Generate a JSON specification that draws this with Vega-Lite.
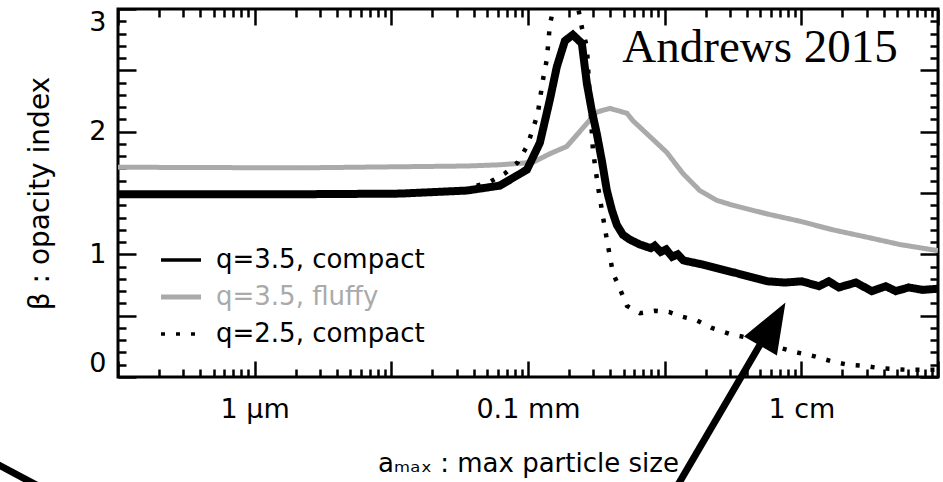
{
  "$schema": "https://vega.github.io/schema/vega-lite/v6.json",
  "width": 820,
  "height": 368,
  "autosize": {"type": "none"},
  "padding": {"left": 118, "top": 9, "right": 5, "bottom": 105},
  "background": "white",
  "config": {
    "view": {"stroke": "black", "strokeWidth": 3},
    "font": "DejaVu Sans",
    "axis": {
      "domain": false, "grid": false, "tickColor": "black", "tickWidth": 2.5,
      "labelColor": "black", "titleColor": "black",
      "labelFont": "DejaVu Sans", "labelFontSize": 27,
      "titleFont": "DejaVu Sans", "titleFontSize": 26, "titleFontWeight": "normal"
    }
  },
  "datasets": {
    "curves": [
      {"series": "q=3.5, fluffy", "size_cm": 0.00001, "beta": 1.71},
      {"series": "q=3.5, fluffy", "size_cm": 0.000214, "beta": 1.705},
      {"series": "q=3.5, fluffy", "size_cm": 0.00357, "beta": 1.72},
      {"series": "q=3.5, fluffy", "size_cm": 0.00622, "beta": 1.73},
      {"series": "q=3.5, fluffy", "size_cm": 0.01086, "beta": 1.75},
      {"series": "q=3.5, fluffy", "size_cm": 0.01445, "beta": 1.82},
      {"series": "q=3.5, fluffy", "size_cm": 0.01923, "beta": 1.88},
      {"series": "q=3.5, fluffy", "size_cm": 0.02523, "beta": 2.03},
      {"series": "q=3.5, fluffy", "size_cm": 0.03192, "beta": 2.16},
      {"series": "q=3.5, fluffy", "size_cm": 0.03972, "beta": 2.19},
      {"series": "q=3.5, fluffy", "size_cm": 0.05297, "beta": 2.15},
      {"series": "q=3.5, fluffy", "size_cm": 0.05848, "beta": 2.09},
      {"series": "q=3.5, fluffy", "size_cm": 0.07798, "beta": 1.96},
      {"series": "q=3.5, fluffy", "size_cm": 0.1038, "beta": 1.83},
      {"series": "q=3.5, fluffy", "size_cm": 0.1358, "beta": 1.66},
      {"series": "q=3.5, fluffy", "size_cm": 0.1807, "beta": 1.52},
      {"series": "q=3.5, fluffy", "size_cm": 0.241, "beta": 1.44},
      {"series": "q=3.5, fluffy", "size_cm": 0.3155, "beta": 1.4},
      {"series": "q=3.5, fluffy", "size_cm": 0.5598, "beta": 1.33},
      {"series": "q=3.5, fluffy", "size_cm": 0.975, "beta": 1.27},
      {"series": "q=3.5, fluffy", "size_cm": 1.698, "beta": 1.2},
      {"series": "q=3.5, fluffy", "size_cm": 3.013, "beta": 1.14},
      {"series": "q=3.5, fluffy", "size_cm": 5.26, "beta": 1.08},
      {"series": "q=3.5, fluffy", "size_cm": 10, "beta": 1.03},
      {"series": "q=3.5, compact", "size_cm": 0.00001, "beta": 1.49},
      {"series": "q=3.5, compact", "size_cm": 0.000214, "beta": 1.49},
      {"series": "q=3.5, compact", "size_cm": 0.001156, "beta": 1.495},
      {"series": "q=3.5, compact", "size_cm": 0.00357, "beta": 1.52},
      {"series": "q=3.5, compact", "size_cm": 0.00622, "beta": 1.56},
      {"series": "q=3.5, compact", "size_cm": 0.00982, "beta": 1.69},
      {"series": "q=3.5, compact", "size_cm": 0.01222, "beta": 1.91},
      {"series": "q=3.5, compact", "size_cm": 0.01445, "beta": 2.26},
      {"series": "q=3.5, compact", "size_cm": 0.01626, "beta": 2.53},
      {"series": "q=3.5, compact", "size_cm": 0.01862, "beta": 2.74},
      {"series": "q=3.5, compact", "size_cm": 0.02128, "beta": 2.79},
      {"series": "q=3.5, compact", "size_cm": 0.02477, "beta": 2.72},
      {"series": "q=3.5, compact", "size_cm": 0.02698, "beta": 2.39},
      {"series": "q=3.5, compact", "size_cm": 0.02931, "beta": 2.17},
      {"series": "q=3.5, compact", "size_cm": 0.03192, "beta": 1.98},
      {"series": "q=3.5, compact", "size_cm": 0.03475, "beta": 1.76},
      {"series": "q=3.5, compact", "size_cm": 0.03776, "beta": 1.52},
      {"series": "q=3.5, compact", "size_cm": 0.04111, "beta": 1.36},
      {"series": "q=3.5, compact", "size_cm": 0.04467, "beta": 1.24},
      {"series": "q=3.5, compact", "size_cm": 0.04943, "beta": 1.16},
      {"series": "q=3.5, compact", "size_cm": 0.05559, "beta": 1.12},
      {"series": "q=3.5, compact", "size_cm": 0.06592, "beta": 1.08},
      {"series": "q=3.5, compact", "size_cm": 0.07925, "beta": 1.05},
      {"series": "q=3.5, compact", "size_cm": 0.0845, "beta": 1.07},
      {"series": "q=3.5, compact", "size_cm": 0.0935, "beta": 1.02},
      {"series": "q=3.5, compact", "size_cm": 0.1025, "beta": 1.04},
      {"series": "q=3.5, compact", "size_cm": 0.1135, "beta": 0.98},
      {"series": "q=3.5, compact", "size_cm": 0.1245, "beta": 1.0},
      {"series": "q=3.5, compact", "size_cm": 0.1375, "beta": 0.95},
      {"series": "q=3.5, compact", "size_cm": 0.1841, "beta": 0.92},
      {"series": "q=3.5, compact", "size_cm": 0.3266, "beta": 0.85},
      {"series": "q=3.5, compact", "size_cm": 0.5689, "beta": 0.78},
      {"series": "q=3.5, compact", "size_cm": 0.7568, "beta": 0.77},
      {"series": "q=3.5, compact", "size_cm": 1.009, "beta": 0.78},
      {"series": "q=3.5, compact", "size_cm": 1.343, "beta": 0.74},
      {"series": "q=3.5, compact", "size_cm": 1.589, "beta": 0.78},
      {"series": "q=3.5, compact", "size_cm": 1.879, "beta": 0.73},
      {"series": "q=3.5, compact", "size_cm": 2.506, "beta": 0.77},
      {"series": "q=3.5, compact", "size_cm": 3.281, "beta": 0.7},
      {"series": "q=3.5, compact", "size_cm": 4.15, "beta": 0.74},
      {"series": "q=3.5, compact", "size_cm": 4.909, "beta": 0.7},
      {"series": "q=3.5, compact", "size_cm": 6.109, "beta": 0.73},
      {"series": "q=3.5, compact", "size_cm": 7.745, "beta": 0.71},
      {"series": "q=3.5, compact", "size_cm": 10, "beta": 0.72},
      {"series": "q=2.5, compact", "size_cm": 0.00001, "beta": 1.49},
      {"series": "q=2.5, compact", "size_cm": 0.001156, "beta": 1.49},
      {"series": "q=2.5, compact", "size_cm": 0.00357, "beta": 1.52},
      {"series": "q=2.5, compact", "size_cm": 0.00395, "beta": 1.55},
      {"series": "q=2.5, compact", "size_cm": 0.00526, "beta": 1.59},
      {"series": "q=2.5, compact", "size_cm": 0.00678, "beta": 1.66},
      {"series": "q=2.5, compact", "size_cm": 0.00843, "beta": 1.75},
      {"series": "q=2.5, compact", "size_cm": 0.00982, "beta": 1.88},
      {"series": "q=2.5, compact", "size_cm": 0.01086, "beta": 2.02},
      {"series": "q=2.5, compact", "size_cm": 0.0118, "beta": 2.15},
      {"series": "q=2.5, compact", "size_cm": 0.01285, "beta": 2.42},
      {"series": "q=2.5, compact", "size_cm": 0.01374, "beta": 2.59},
      {"series": "q=2.5, compact", "size_cm": 0.01445, "beta": 2.87},
      {"series": "q=2.5, compact", "size_cm": 0.016, "beta": 3.1},
      {"series": "q=2.5, compact", "size_cm": 0.01862, "beta": 3.22},
      {"series": "q=2.5, compact", "size_cm": 0.02203, "beta": 3.15},
      {"series": "q=2.5, compact", "size_cm": 0.02477, "beta": 2.85},
      {"series": "q=2.5, compact", "size_cm": 0.02698, "beta": 2.69},
      {"series": "q=2.5, compact", "size_cm": 0.02838, "beta": 2.26},
      {"series": "q=2.5, compact", "size_cm": 0.02985, "beta": 1.85},
      {"series": "q=2.5, compact", "size_cm": 0.03243, "beta": 1.56},
      {"series": "q=2.5, compact", "size_cm": 0.03532, "beta": 1.31},
      {"series": "q=2.5, compact", "size_cm": 0.03776, "beta": 1.12},
      {"series": "q=2.5, compact", "size_cm": 0.04178, "beta": 0.85},
      {"series": "q=2.5, compact", "size_cm": 0.04699, "beta": 0.72},
      {"series": "q=2.5, compact", "size_cm": 0.05297, "beta": 0.58},
      {"series": "q=2.5, compact", "size_cm": 0.06592, "beta": 0.52},
      {"series": "q=2.5, compact", "size_cm": 0.08472, "beta": 0.54},
      {"series": "q=2.5, compact", "size_cm": 0.1074, "beta": 0.53},
      {"series": "q=2.5, compact", "size_cm": 0.1358, "beta": 0.49},
      {"series": "q=2.5, compact", "size_cm": 0.1722, "beta": 0.46},
      {"series": "q=2.5, compact", "size_cm": 0.2213, "beta": 0.4},
      {"series": "q=2.5, compact", "size_cm": 0.2999, "beta": 0.35},
      {"series": "q=2.5, compact", "size_cm": 0.4064, "beta": 0.32},
      {"series": "q=2.5, compact", "size_cm": 0.6839, "beta": 0.24},
      {"series": "q=2.5, compact", "size_cm": 0.9268, "beta": 0.2},
      {"series": "q=2.5, compact", "size_cm": 1.233, "beta": 0.17},
      {"series": "q=2.5, compact", "size_cm": 1.644, "beta": 0.13},
      {"series": "q=2.5, compact", "size_cm": 2.188, "beta": 0.1},
      {"series": "q=2.5, compact", "size_cm": 2.917, "beta": 0.09},
      {"series": "q=2.5, compact", "size_cm": 3.882, "beta": 0.07},
      {"series": "q=2.5, compact", "size_cm": 5.715, "beta": 0.06},
      {"series": "q=2.5, compact", "size_cm": 10, "beta": 0.06}
    ],
    "arrows": [
      {"x0": 0.1189, "y0": -0.921, "x1": 0.5224, "y1": 0.302},
      {"x0": 0.000000978, "y0": -0.636, "x1": 0.000002685, "y1": -0.896}
    ],
    "heads": [
      {"size_cm": 0.62, "beta": 0.43}
    ],
    "notes": [
      {"size_cm": 5.08, "beta": 2.567, "note": "Andrews 2015"}
    ]
  },
  "layer": [
    {
      "data": {"name": "curves"},
      "mark": {"type": "line", "clip": true, "strokeCap": "butt", "strokeJoin": "miter"},
      "encoding": {
        "x": {
          "field": "size_cm", "type": "quantitative",
          "scale": {"type": "log", "domain": [0.00001, 10], "nice": false},
          "axis": {
            "orient": "bottom",
            "values": [0.00001,0.00002,0.00003,0.00004,0.00005,0.00006,0.00007,0.00008,0.00009,
                       0.0001,0.0002,0.0003,0.0004,0.0005,0.0006,0.0007,0.0008,0.0009,
                       0.001,0.002,0.003,0.004,0.005,0.006,0.007,0.008,0.009,
                       0.01,0.02,0.03,0.04,0.05,0.06,0.07,0.08,0.09,
                       0.1,0.2,0.3,0.4,0.5,0.6,0.7,0.8,0.9,
                       1,2,3,4,5,6,7,8,9,10],
            "tickSize": {"condition": {"test": "abs(log(datum.value)/LN10 - round(log(datum.value)/LN10)) < 0.001", "value": -16}, "value": -8},
            "labelExpr": "datum.value == 0.0001 ? '1 μm' : datum.value == 0.01 ? '0.1 mm' : datum.value == 1 ? '1 cm' : ''",
            "labelOverlap": false, "labelBound": false, "labelFlush": false,
            "labelPadding": 35,
            "title": "aₘₐₓ : max particle size", "titlePadding": 20
          }
        },
        "y": {
          "field": "beta", "type": "quantitative",
          "scale": {"domain": [0, 3], "nice": false, "zero": false},
          "axis": {
            "orient": "left",
            "values": [0,0.1,0.2,0.3,0.4,0.5,0.6,0.7,0.8,0.9,1,1.1,1.2,1.3,1.4,1.5,1.6,1.7,1.8,1.9,2,2.1,2.2,2.3,2.4,2.5,2.6,2.7,2.8,2.9,3],
            "tickSize": {"condition": {"test": "abs(datum.value*2 - round(datum.value*2)) < 0.001", "value": -18}, "value": -8},
            "labelExpr": "abs(datum.value - round(datum.value)) < 0.001 ? format(datum.value, 'd') : ''",
            "labelOverlap": false, "labelFlush": true, "labelPadding": 30,
            "title": "β : opacity index", "titleFontSize": 28, "titlePadding": 34
          }
        },
        "color": {
          "field": "series", "type": "nominal",
          "scale": {"domain": ["q=3.5, compact", "q=3.5, fluffy", "q=2.5, compact"], "range": ["black", "#aaaaaa", "black"]},
          "legend": {
            "title": null, "orient": "none", "legendX": 50, "legendY": 238,
            "symbolType": "stroke", "symbolSize": 1600, "symbolStrokeWidth": 3.5,
            "labelFont": "DejaVu Sans", "labelFontSize": 26, "labelOffset": 22, "labelColor": "black",
            "labelLimit": 500,
            "rowPadding": 11, "padding": 0,
            "encode": {
              "labels": {"update": {"fill": {"signal": "datum.value === 'q=3.5, fluffy' ? '#aaaaaa' : 'black'"}}},
              "symbols": {"update": {"strokeWidth": {"signal": "datum.value === 'q=3.5, fluffy' ? 5 : 3.5"}}}
            }
          }
        },
        "strokeDash": {
          "field": "series", "type": "nominal",
          "scale": {"domain": ["q=3.5, compact", "q=3.5, fluffy", "q=2.5, compact"], "range": [[1, 0], [1, 0], [4, 11]]}
        },
        "strokeWidth": {
          "condition": [
            {"test": "datum.series === 'q=3.5, compact'", "value": 8},
            {"test": "datum.series === 'q=3.5, fluffy'", "value": 5}
          ],
          "value": 4.5
        }
      }
    },
    {
      "data": {"name": "curves"},
      "mark": {"type": "point", "opacity": 0},
      "encoding": {
        "x": {
          "field": "size_cm", "type": "quantitative",
          "axis": {
            "orient": "top", "labels": false, "title": null,
            "values": [0.00001,0.00002,0.00003,0.00004,0.00005,0.00006,0.00007,0.00008,0.00009,
                       0.0001,0.0002,0.0003,0.0004,0.0005,0.0006,0.0007,0.0008,0.0009,
                       0.001,0.002,0.003,0.004,0.005,0.006,0.007,0.008,0.009,
                       0.01,0.02,0.03,0.04,0.05,0.06,0.07,0.08,0.09,
                       0.1,0.2,0.3,0.4,0.5,0.6,0.7,0.8,0.9,
                       1,2,3,4,5,6,7,8,9,10],
            "tickSize": {"condition": {"test": "abs(log(datum.value)/LN10 - round(log(datum.value)/LN10)) < 0.001", "value": -16}, "value": -8}
          }
        },
        "y": {
          "field": "beta", "type": "quantitative",
          "axis": {
            "orient": "right", "labels": false, "title": null,
            "values": [0,0.1,0.2,0.3,0.4,0.5,0.6,0.7,0.8,0.9,1,1.1,1.2,1.3,1.4,1.5,1.6,1.7,1.8,1.9,2,2.1,2.2,2.3,2.4,2.5,2.6,2.7,2.8,2.9,3],
            "tickSize": {"condition": {"test": "abs(datum.value*2 - round(datum.value*2)) < 0.001", "value": -18}, "value": -8}
          }
        }
      }
    },
    {
      "data": {"name": "notes"},
      "mark": {"type": "text", "align": "right", "baseline": "alphabetic", "font": "Liberation Serif", "fontSize": 47, "color": "black"},
      "encoding": {
        "x": {"field": "size_cm", "type": "quantitative", "axis": null},
        "y": {"field": "beta", "type": "quantitative", "axis": null},
        "text": {"field": "note"}
      }
    },
    {
      "data": {"name": "arrows"},
      "mark": {"type": "rule", "color": "black", "strokeWidth": 7, "clip": false},
      "encoding": {
        "x": {"field": "x0", "type": "quantitative", "axis": null},
        "y": {"field": "y0", "type": "quantitative", "axis": null},
        "x2": {"field": "x1"},
        "y2": {"field": "y1"}
      }
    },
    {
      "data": {"name": "heads"},
      "mark": {"type": "point", "shape": "M0,-1L-0.76,1L0.76,1Z", "filled": true, "color": "black", "opacity": 1, "size": 2500, "angle": 30, "clip": false},
      "encoding": {
        "x": {"field": "size_cm", "type": "quantitative", "axis": null},
        "y": {"field": "beta", "type": "quantitative", "axis": null}
      }
    }
  ],
  "resolve": {"axis": {"x": "independent", "y": "independent"}}
}
